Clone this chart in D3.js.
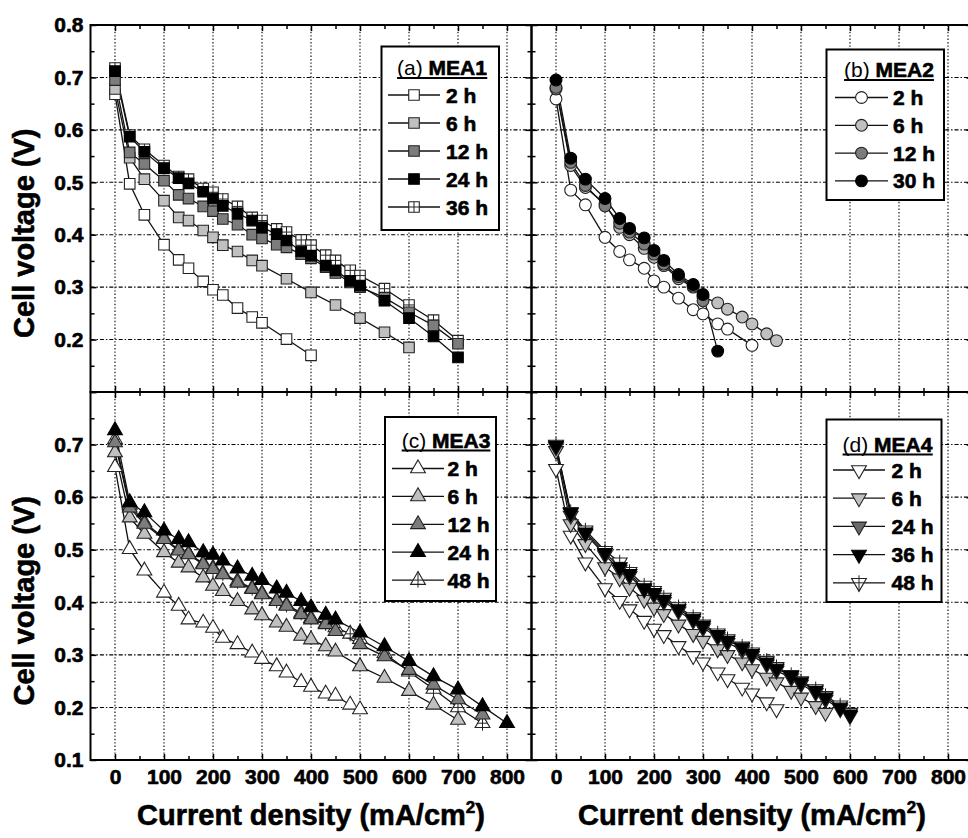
<!DOCTYPE html>
<html>
<head>
<meta charset="utf-8">
<script src="https://cdn.jsdelivr.net/npm/d3@7"></script>
<style>
  body { margin: 0; background: #fff; }
  text { font-family: "Liberation Sans", Arial, sans-serif; font-weight: bold; fill: #000; }
  .heavy { stroke: #000; stroke-width: 0.6px; }
</style>
</head>
<body>
<svg id="chart" width="968" height="838"></svg>
<script>
// ---- data (current density in mA/cm2, cell voltage in V) ----
const mea1Current = [0, 30, 60, 100, 130, 150, 180, 200, 220, 250, 280, 300, 330, 350, 380, 400, 430, 450, 480, 500, 550, 600, 650, 700];
const mea1Labels = ["2 h", "6 h", "12 h", "24 h", "36 h"];
const mea1V2h  = [0.668, 0.497, 0.438, 0.381, 0.352, 0.336, 0.311, 0.295, 0.285, 0.260, 0.243, 0.232, null, 0.201, null, 0.170, null, null, null, null, null, null, null, null];
const mea1V6h  = [0.678, 0.547, 0.506, 0.465, 0.433, 0.427, 0.408, 0.395, 0.380, 0.368, 0.351, 0.341, null, 0.316, null, 0.290, null, 0.266, null, 0.241, 0.214, 0.185, null, null];
const mea1V12h = [0.695, 0.557, 0.535, 0.503, 0.476, 0.469, 0.454, 0.445, 0.430, 0.419, 0.400, 0.393, 0.381, 0.376, 0.363, 0.355, 0.338, 0.327, 0.309, 0.300, 0.280, 0.252, 0.227, 0.192];
const mea1V24h = [0.712, 0.587, 0.558, 0.527, 0.508, 0.498, 0.482, 0.469, 0.455, 0.441, 0.427, 0.414, 0.401, 0.389, 0.368, 0.360, 0.341, 0.332, 0.312, 0.303, 0.274, 0.241, 0.206, 0.166];
const mea1V36h = [0.718, 0.590, 0.563, 0.532, 0.511, 0.506, 0.488, 0.481, 0.468, 0.454, 0.433, 0.427, 0.411, 0.405, 0.390, 0.380, 0.361, 0.351, 0.332, 0.322, 0.297, 0.266, 0.237, 0.198];

const mea2Current = [0, 30, 60, 100, 130, 150, 180, 200, 220, 250, 280, 300, 330, 350, 380, 400, 430, 450];
const mea2Labels = ["2 h", "6 h", "12 h", "30 h"];
const mea2V2h  = [0.659, 0.485, 0.457, 0.395, 0.368, 0.352, 0.336, 0.312, 0.300, 0.279, 0.257, 0.249, 0.230, 0.220, null, 0.189, null, null];
const mea2V6h  = [0.678, 0.532, 0.490, 0.459, 0.414, 0.400, 0.374, 0.357, 0.341, 0.316, 0.300, 0.281, 0.270, 0.258, 0.243, 0.230, 0.211, 0.198];
const mea2V12h = [0.681, 0.538, 0.494, 0.455, 0.422, 0.405, 0.382, 0.363, 0.344, 0.320, 0.302, 0.274, null, null, null, null, null, null];
const mea2V30h = [0.695, 0.546, 0.506, 0.469, 0.431, 0.412, 0.394, 0.370, 0.351, 0.324, 0.305, 0.286, 0.178, null, null, null, null, null];

const mea3Current = [0, 30, 60, 100, 130, 150, 180, 200, 220, 250, 280, 300, 330, 350, 380, 400, 430, 450, 480, 500, 550, 600, 650, 700, 750, 800];
const mea3Labels = ["2 h", "6 h", "12 h", "24 h", "48 h"];
const mea3V2h  = [0.657, 0.501, 0.460, 0.418, 0.393, 0.367, 0.361, 0.351, 0.332, 0.320, 0.304, 0.292, 0.278, 0.266, 0.248, 0.239, 0.226, 0.222, 0.205, 0.196, null, null, null, null, null, null];
const mea3V6h  = [0.685, 0.561, 0.530, 0.495, 0.475, 0.466, 0.447, 0.431, 0.421, 0.402, 0.386, 0.375, 0.361, 0.353, 0.336, 0.329, 0.316, 0.306, null, 0.278, 0.256, 0.231, 0.205, 0.176, null, null];
const mea3V12h = [0.704, 0.580, 0.549, 0.520, 0.498, 0.491, 0.472, 0.463, 0.453, 0.437, 0.425, 0.415, 0.402, 0.393, 0.377, 0.367, 0.358, 0.345, null, 0.320, 0.297, 0.271, 0.243, 0.215, 0.186, null];
const mea3V24h = [0.727, 0.590, 0.571, 0.536, 0.520, 0.514, 0.495, 0.490, 0.479, 0.464, 0.450, 0.442, 0.426, 0.418, 0.402, 0.390, 0.376, 0.367, null, 0.342, 0.316, 0.288, 0.259, 0.234, 0.202, 0.170];
const mea3V48h = [0.710, 0.585, 0.552, 0.522, 0.500, 0.492, 0.474, 0.465, 0.455, 0.440, 0.427, 0.417, 0.403, 0.395, 0.380, 0.370, 0.360, 0.352, 0.340, 0.330, 0.303, 0.268, 0.235, 0.200, 0.170, null];

const mea4Current = [0, 30, 60, 100, 130, 150, 180, 200, 220, 250, 280, 300, 330, 350, 380, 400, 430, 450, 480, 500, 530, 550, 580, 600];
const mea4Labels = ["2 h", "6 h", "24 h", "36 h", "48 h"];
const mea4V2h  = [0.654, 0.527, 0.476, 0.427, 0.403, 0.387, 0.365, 0.350, 0.338, 0.317, 0.298, 0.286, 0.267, 0.254, 0.238, 0.227, 0.210, 0.197, null, null, null, null, null, null];
const mea4V6h  = [0.688, 0.549, 0.511, 0.467, 0.446, 0.428, 0.405, 0.390, 0.378, 0.358, 0.340, 0.327, 0.311, 0.300, 0.286, 0.273, 0.257, 0.248, 0.232, 0.219, 0.203, 0.190, null, null];
const mea4V24h = [0.695, 0.565, 0.530, 0.490, 0.462, 0.450, 0.424, 0.414, 0.401, 0.383, 0.365, 0.351, 0.334, 0.323, 0.309, 0.298, 0.282, 0.270, 0.256, 0.244, 0.228, 0.215, 0.197, 0.184];
const mea4V36h = [0.698, 0.570, 0.533, 0.494, 0.467, 0.454, 0.427, 0.418, 0.405, 0.387, 0.369, 0.355, 0.338, 0.327, 0.314, 0.302, 0.286, 0.274, 0.260, 0.248, 0.232, 0.219, 0.200, 0.187];
const mea4V48h = [0.700, 0.572, 0.537, 0.498, 0.476, 0.458, 0.432, 0.422, 0.409, 0.391, 0.372, 0.358, 0.341, 0.330, 0.316, 0.305, 0.289, 0.277, 0.262, 0.250, 0.235, 0.222, 0.204, 0.190];

const xMajorTicks = [0, 100, 200, 300, 400, 500, 600, 700, 800];
const xMinorTicks = [50, 150, 250, 350, 450, 550, 650, 750];
const yMajorTicks = [0.1, 0.2, 0.3, 0.4, 0.5, 0.6, 0.7, 0.8];
const yMinorTicks = [0.15, 0.25, 0.35, 0.45, 0.55, 0.65, 0.75];

// ---- layout ----
const svg = d3.select("#chart");
svg.append("rect").attr("width", 968).attr("height", 838).attr("fill", "#fff");

const xLeft = d3.scaleLinear().domain([-50, 850]).range([90.5, 531.5]);
const xRight = d3.scaleLinear().domain([-50, 850]).range([531.5, 972.5]);
const yTop = d3.scaleLinear().domain([0.1, 0.8]).range([392, 25]);
const yBottom = d3.scaleLinear().domain([0.1, 0.8]).range([760, 392]);

const shapes = {
    square: { d: d3.symbol(d3.symbolSquare, 112)(), cross: "M-5.3,0H5.3M0,-5.3V5.3", rot: 0 },
    circle: { d: d3.symbol(d3.symbolCircle, 110)(), cross: "M-5.9,0H5.9M0,-5.9V5.9", rot: 0 },
    up:     { d: d3.symbol(d3.symbolTriangle, 95)(), cross: "M0,-8.5V7.5M-4.9,0H4.9", rot: 0 },
    down:   { d: d3.symbol(d3.symbolTriangle, 95)(), cross: "M0,-8.5V7.5M-4.9,0H4.9", rot: 180 }
};

const panels = [
    { tag: "(a)", name: "MEA1", current: mea1Current, labels: mea1Labels,
      values: [mea1V2h, mea1V6h, mea1V12h, mea1V24h, mea1V36h],
      fills: ["#ffffff", "#c0c0c0", "#7c7c7c", "#000000", "#ffffff"], crossed: 4,
      shape: "square", x: xLeft, y: yTop, yLabels: [0.2, 0.3, 0.4, 0.5, 0.6, 0.7, 0.8], xLabels: false,
      legend: { x0: 381.5, y0: 46.5, x1: 499, y1: 230, titleY: 75, titleX: 442, rowY: 95, step: 28, l0: 388, l1: 440, tx: 446 } },
    { tag: "(b)", name: "MEA2", current: mea2Current, labels: mea2Labels,
      values: [mea2V2h, mea2V6h, mea2V12h, mea2V30h],
      fills: ["#ffffff", "#c0c0c0", "#7c7c7c", "#000000"], crossed: -1,
      shape: "circle", x: xRight, y: yTop, yLabels: [], xLabels: false,
      legend: { x0: 826.5, y0: 49.5, x1: 944, y1: 200, titleY: 77, titleX: 889, rowY: 97.5, step: 27.8, l0: 835, l1: 888, tx: 893 } },
    { tag: "(c)", name: "MEA3", current: mea3Current, labels: mea3Labels,
      values: [mea3V2h, mea3V6h, mea3V12h, mea3V24h, mea3V48h],
      fills: ["#ffffff", "#c0c0c0", "#7c7c7c", "#000000", "#ffffff"], crossed: 4,
      shape: "up", x: xLeft, y: yBottom, yLabels: [0.1, 0.2, 0.3, 0.4, 0.5, 0.6, 0.7], xLabels: true,
      legend: { x0: 385, y0: 417, x1: 496, y1: 601, titleY: 447.5, titleX: 446, rowY: 468.5, step: 27.9, l0: 392, l1: 444, tx: 447.5 } },
    { tag: "(d)", name: "MEA4", current: mea4Current, labels: mea4Labels,
      values: [mea4V2h, mea4V6h, mea4V24h, mea4V36h, mea4V48h],
      fills: ["#ffffff", "#c0c0c0", "#6a6a6a", "#000000", "#ffffff"], crossed: 4,
      shape: "down", x: xRight, y: yBottom, yLabels: [], xLabels: true,
      legend: { x0: 826.5, y0: 419.5, x1: 941.5, y1: 602, titleY: 451.5, titleX: 887.5, rowY: 470, step: 28.2, l0: 833, l1: 885, tx: 891.5 } }
];

function marker(g, shape, cx, cy, fill, crossed) {
    const s = shapes[shape];
    const tr = "translate(" + cx + "," + cy + ")" + (s.rot ? " rotate(" + s.rot + ")" : "");
    g.append("path").attr("d", s.d).attr("transform", tr)
        .attr("fill", fill).attr("stroke", fill === "#000000" ? "#000" : "#222").attr("stroke-width", 1.1);
    if (crossed) {
        g.append("path").attr("d", s.cross).attr("transform", tr)
            .attr("fill", "none").attr("stroke", "#222").attr("stroke-width", 1);
    }
}

panels.forEach(p => {
    const x = p.x, y = p.y;
    const [px0, px1] = x.range();
    const [py1, py0] = y.range();
    const g = svg.append("g");

    // Grid
    g.selectAll(".vgrid").data(xMajorTicks).join("line")
        .attr("x1", d => x(d)).attr("x2", d => x(d)).attr("y1", py0).attr("y2", py1)
        .attr("stroke", "#000").attr("stroke-width", 1.1).attr("stroke-dasharray", "1.4,2");
    g.selectAll(".hgrid").data(yMajorTicks.filter(d => d > 0.15 && d < 0.75)).join("line")
        .attr("x1", px0).attr("x2", px1).attr("y1", d => y(d)).attr("y2", d => y(d))
        .attr("stroke", "#000").attr("stroke-width", 1.1).attr("stroke-dasharray", "4,2,1.4,2");

    // Axes with inward ticks
    const fmt = d => p.yLabels.some(v => Math.abs(v - d) < 1e-6) ? d3.format(".1f")(d) : "";
    const axes = [
        g.append("g").attr("transform", "translate(" + px0 + ",0)").call(d3.axisLeft(y).tickValues(yMajorTicks).tickSize(-6).tickPadding(7).tickFormat(fmt)),
        g.append("g").attr("transform", "translate(" + px0 + ",0)").call(d3.axisLeft(y).tickValues(yMinorTicks).tickSize(-4).tickFormat("")),
        g.append("g").attr("transform", "translate(" + px1 + ",0)").call(d3.axisRight(y).tickValues(yMajorTicks).tickSize(-6).tickFormat("")),
        g.append("g").attr("transform", "translate(" + px1 + ",0)").call(d3.axisRight(y).tickValues(yMinorTicks).tickSize(-4).tickFormat("")),
        g.append("g").attr("transform", "translate(0," + py1 + ")").call(d3.axisBottom(x).tickValues(xMajorTicks).tickSize(-6).tickPadding(9).tickFormat(p.xLabels ? d3.format("d") : "")),
        g.append("g").attr("transform", "translate(0," + py1 + ")").call(d3.axisBottom(x).tickValues(xMinorTicks).tickSize(-4).tickFormat("")),
        g.append("g").attr("transform", "translate(0," + py0 + ")").call(d3.axisTop(x).tickValues(xMajorTicks).tickSize(-6).tickFormat("")),
        g.append("g").attr("transform", "translate(0," + py0 + ")").call(d3.axisTop(x).tickValues(xMinorTicks).tickSize(-4).tickFormat(""))
    ];
    axes.forEach(a => {
        a.select(".domain").remove();
        a.selectAll(".tick line").attr("stroke", "#000").attr("stroke-width", 1.5);
        a.selectAll(".tick text").attr("font-size", 21).attr("class", "heavy")
            .attr("font-family", "Liberation Sans, Arial, sans-serif").attr("font-weight", "bold");
    });

    // Series lines
    const line = d3.line().x(d => x(d[0])).y(d => y(d[1]));
    const series = p.values.map((vals, i) => ({
        i, pts: p.current.map((c, k) => [c, vals[k]]).filter(d => d[1] != null)
    }));
    const order = series.filter(s => s.i === p.crossed).concat(series.filter(s => s.i !== p.crossed));
    order.forEach(s => {
        g.append("path").attr("d", line(s.pts)).attr("fill", "none")
            .attr("stroke", "#111").attr("stroke-width", 1.3);
    });
    order.forEach(s => {
        s.pts.forEach(d => marker(g, p.shape, x(d[0]), y(d[1]), p.fills[s.i], s.i === p.crossed));
    });

    // Frame
    g.append("rect").attr("x", px0).attr("y", py0).attr("width", px1 - px0).attr("height", py1 - py0)
        .attr("fill", "none").attr("stroke", "#000").attr("stroke-width", 2);

    // Legend
    const L = p.legend;
    const lg = svg.append("g");
    lg.append("rect").attr("x", L.x0).attr("y", L.y0).attr("width", L.x1 - L.x0).attr("height", L.y1 - L.y0)
        .attr("fill", "#fff").attr("stroke", "#000").attr("stroke-width", 2);
    const title = lg.append("text").attr("x", L.titleX).attr("y", L.titleY)
        .attr("text-anchor", "middle").attr("font-size", 21);
    title.append("tspan").attr("font-weight", "normal").text(p.tag);
    title.append("tspan").attr("class", "heavy").text(" " + p.name);
    const bb = title.node().getBBox();
    lg.append("line").attr("x1", bb.x).attr("x2", bb.x + bb.width).attr("y1", L.titleY + 3).attr("y2", L.titleY + 3)
        .attr("stroke", "#000").attr("stroke-width", 2);
    p.labels.forEach((lab, i) => {
        const ry = L.rowY + i * L.step;
        lg.append("line").attr("x1", L.l0).attr("x2", L.l1).attr("y1", ry).attr("y2", ry)
            .attr("stroke", "#111").attr("stroke-width", 1.3);
        marker(lg, p.shape, (L.l0 + L.l1) / 2, ry, p.fills[i], i === p.crossed);
        lg.append("text").attr("class", "heavy").attr("x", L.tx).attr("y", ry + 7.5).attr("font-size", 21).text(lab);
    });
});

// Axis titles
[yTop, yBottom].forEach(y => {
    svg.append("text").attr("class", "heavy").attr("transform", "translate(34," + (y(0.4) - 1.5) + ") rotate(-90)")
        .attr("text-anchor", "middle").attr("font-size", 29).text("Cell voltage (V)");
});
[xLeft, xRight].forEach(x => {
    const t = svg.append("text").attr("class", "heavy").attr("x", x(400)).attr("y", 825)
        .attr("text-anchor", "middle").attr("font-size", 29);
    t.append("tspan").text("Current density (mA/cm");
    t.append("tspan").attr("font-size", 17).attr("dy", -12).text("2");
    t.append("tspan").attr("dy", 12).text(")");
});
</script>
</body>
</html>
